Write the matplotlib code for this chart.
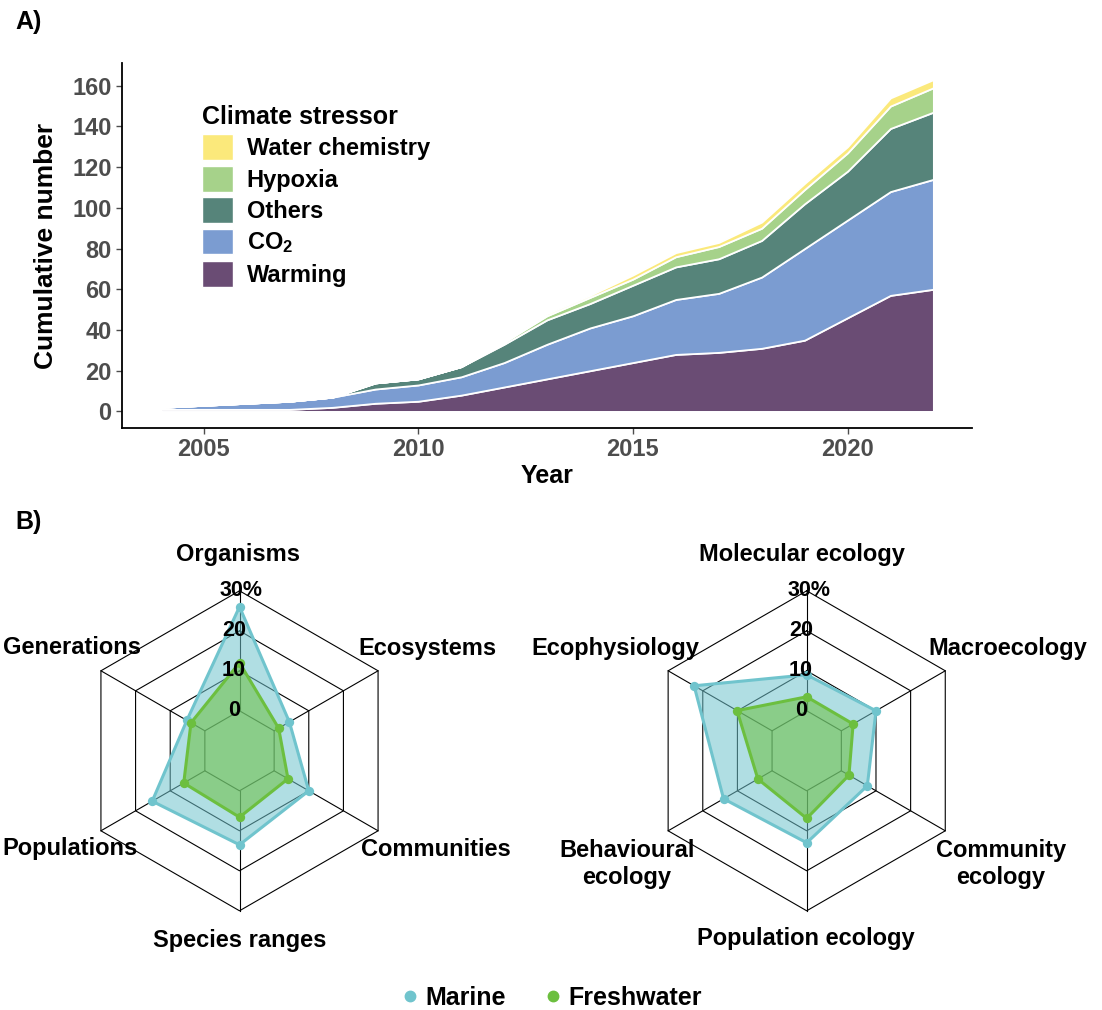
import matplotlib
matplotlib.use('Agg')
import matplotlib.pyplot as plt
from matplotlib.patches import Patch
from matplotlib.lines import Line2D
import numpy as np

plt.rcParams['font.family'] = ['Liberation Sans', 'DejaVu Sans']
plt.rcParams['font.weight'] = 'bold'
plt.rcParams['mathtext.fontset'] = 'custom'
plt.rcParams['mathtext.rm'] = 'Liberation Sans:bold'
plt.rcParams['mathtext.bf'] = 'Liberation Sans:bold'
plt.rcParams['mathtext.it'] = 'Liberation Sans:bold'

# ---- panel A data (cumulative number per stressor) ----
years = list(range(2004, 2023))
warming = [1, 1, 1, 1, 2, 4, 5, 8, 12, 16, 20, 24, 28, 29, 31, 35, 46, 57, 60]
co2 = [1, 2, 3, 4, 5, 7, 8, 9, 12, 17, 21, 23, 27, 29, 35, 45, 48, 51, 54]
others = [0, 0, 0, 0, 0, 3, 3, 5, 9, 12, 12, 15, 16, 17, 18, 22, 24, 31, 33]
hypoxia = [0, 0, 0, 0, 0, 0, 0, 0, 1, 2, 3, 3, 5, 6, 6, 7, 9, 11, 12]
water_chem = [0, 0, 0, 0, 0, 0, 0, 0, 0, 1, 1, 2, 2, 2, 3, 3, 3, 4, 4]

stressors = ['Warming', 'CO$_\\mathbf{2}$', 'Others', 'Hypoxia', 'Water chemistry']
stress_cols = ['#6A4C74', '#7B9CD1', '#56847A', '#A6D28A', '#FBE97B']

# ---- panel B data (% of studies) ----
levels = ['Organisms', 'Ecosystems', 'Communities', 'Species ranges', 'Populations', 'Generations']
levels_marine = [26, 4.4, 10, 13.5, 15.2, 5.2]
levels_fresh = [12, 1.3, 4, 6.6, 6.1, 4.0]

fields = ['Molecular ecology', 'Macroecology', 'Community\necology', 'Population ecology',
          'Behavioural\necology', 'Ecophysiology']
fields_marine = [9, 10, 7.5, 13, 14, 22.5]
fields_fresh = [3.5, 3.4, 2.2, 6.9, 4.1, 10.1]

ring_labels = ['0', '10', '20', '30%']
marine_col = '#70C4CD'
fresh_col = '#6CBF3F'

fig = plt.figure(figsize=(11.02, 10.10), dpi=100)

# ================= A) stacked area =================
ax = fig.add_axes([122/1102, 1-428/1010, 850/1102, 365/1010])
ax.stackplot(years, warming, co2, others, hypoxia, water_chem,
             colors=stress_cols, edgecolor='white', linewidth=1.3)
ax.set_xlim(2003.1, 2022.9)
ax.set_ylim(-8.15, 171.15)
ax.set_xticks([2005, 2010, 2015, 2020])
ax.set_yticks(range(0, 161, 20))
ax.tick_params(labelsize=17, colors='#4D4D4D', length=4, width=1)
for lab in ax.get_xticklabels() + ax.get_yticklabels():
    lab.set_fontweight('bold')
ax.spines['top'].set_visible(False)
ax.spines['right'].set_visible(False)
for s in ['left', 'bottom']:
    ax.spines[s].set_linewidth(1.3)
ax.set_xlabel('Year', fontsize=18, fontweight='bold', labelpad=2)
ax.set_ylabel('Cumulative number', fontsize=19, fontweight='bold', labelpad=10)

handles = [Patch(facecolor=c, edgecolor='white') for c in stress_cols][::-1]
leg = ax.legend(handles, stressors[::-1], title='Climate stressor', loc='upper left',
                bbox_to_anchor=(0.08, 0.918), frameon=False, fontsize=17,
                title_fontproperties={'size': 18, 'weight': 'bold'},
                handlelength=1.3, handleheight=1.3, labelspacing=0.24,
                handletextpad=0.6, borderpad=0, alignment='left')

fig.text(15/1102, 1-22/1010, 'A)', fontsize=18, fontweight='bold', va='center')
fig.text(15/1102, 1-522/1010, 'B)', fontsize=18, fontweight='bold', va='center')

# ================= B) radar charts =================
ang = np.deg2rad([90, 30, -30, -90, -150, 150])


def radar(axr, cats, marine, fresh, label_xy, label_ha):
    for lev in range(4):
        r = lev * 10 + 10
        xs = np.append(r * np.cos(ang), r * np.cos(ang[0]))
        ys = np.append(r * np.sin(ang), r * np.sin(ang[0]))
        axr.plot(xs, ys, color='black', lw=0.8, zorder=1)
    for a in ang:
        axr.plot([10 * np.cos(a), 40 * np.cos(a)], [10 * np.sin(a), 40 * np.sin(a)],
                 color='black', lw=0.8, zorder=1)
    for vals, col in [(marine, marine_col), (fresh, fresh_col)]:
        r = np.array(vals) + 10
        xs, ys = r * np.cos(ang), r * np.sin(ang)
        axr.fill(xs, ys, color=col, alpha=0.55, lw=0, zorder=2)
        axr.plot(np.append(xs, xs[0]), np.append(ys, ys[0]), color=col, lw=2.2, zorder=3)
        axr.scatter(xs, ys, s=45, color=col, zorder=4, linewidths=0)
    for i, t in enumerate(ring_labels):
        dx = 0.5 if t.endswith('%') else -1.4
        axr.text(dx, i * 10 + 10, t, ha='center', va='center', fontsize=15.5,
                 fontweight='bold', zorder=5)
    for c, (x, y), ha in zip(cats, label_xy, label_ha):
        axr.text(x, y, c, ha=ha, va='center', fontsize=17, fontweight='bold',
                 multialignment='center', linespacing=1.2)
    axr.set_xlim(-50, 50)
    axr.set_ylim(-50, 50)
    axr.axis('off')


ax1 = fig.add_axes([39.5/1102, 1-950.8/1010, 400/1102, 400/1010])
radar(ax1, levels, levels_marine, levels_fresh,
      [(-0.3, 49.2), (47.1, 25.7), (49.1, -24.8), (0, -47.3), (-59.2, -24.3), (-59.2, 25.7)],
      ['center', 'center', 'center', 'center', 'left', 'left'])

ax2 = fig.add_axes([606.7/1102, 1-950.8/1010, 400/1102, 400/1010])
radar(ax2, fields, fields_marine, fields_fresh,
      [(-1.2, 49), (50.3, 25.7), (48.6, -28.3), (-0.3, -46.8), (-44.9, -28.3), (-47.9, 25.7)],
      ['center'] * 6)

leg_handles = [Line2D([], [], marker='o', color=marine_col, ls='', markersize=7.5),
               Line2D([], [], marker='o', color=fresh_col, ls='', markersize=7.5)]
fig.legend(leg_handles, ['Marine', 'Freshwater'], loc='center', ncol=2,
           bbox_to_anchor=(0.501, 1-998/1010), frameon=False, fontsize=18,
           handlelength=0.6, handletextpad=0.3, columnspacing=1.6)

fig.savefig('out.png', dpi=100)
